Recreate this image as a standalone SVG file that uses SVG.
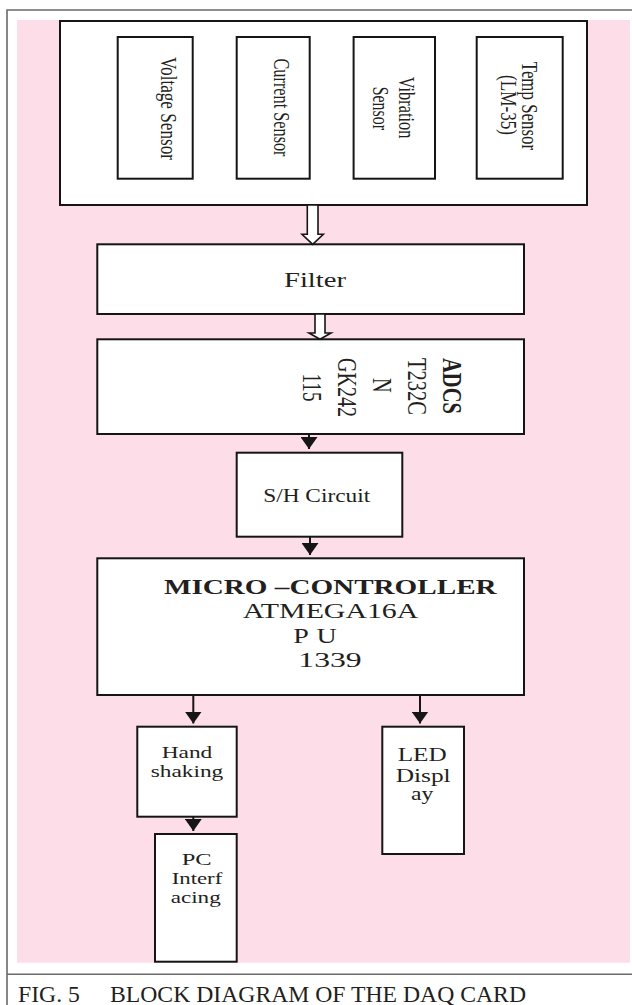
<svg xmlns="http://www.w3.org/2000/svg" width="632" height="1005" viewBox="0 0 632 1005">
<style>
.box{fill:#fff;stroke:#151515;stroke-width:2}
.t{font-family:"Liberation Serif","Times New Roman",Times,serif;fill:#231f20}
.c{text-anchor:middle}
.b{font-weight:bold}
.ln{stroke:#151515;stroke-width:2;fill:none}
.hollow{fill:#fff;stroke:#151515;stroke-width:1.6;stroke-linejoin:miter}
.frame{stroke:#6a6a6a;stroke-width:1.6;fill:none}
</style>
<defs>
<marker id="ah" markerUnits="userSpaceOnUse" viewBox="0 0 12 17" markerWidth="12" markerHeight="17" refX="12" refY="8.5" orient="auto">
<path d="M0,0 L12,8.5 L0,17 z" fill="#151515"/>
</marker>
</defs>
<rect x="0" y="0" width="632" height="1005" fill="#fff"/>
<rect x="17" y="20" width="613" height="942.7" fill="#fcdde8"/>
<path class="frame" d="M7,1005 V10 H632 M7,974.3 H632"/>

<g id="sensors">
<rect class="box" x="60" y="21" width="527" height="184"/>
</g>
<g id="voltage">
<rect class="box" x="117.7" y="37" width="75" height="141.7"/>
<text class="t c" font-size="16.5" textLength="103" lengthAdjust="spacingAndGlyphs" transform="translate(160.5,108.4) rotate(90) scale(1,1.35)">Voltage Sensor</text>
</g>
<g id="current">
<rect class="box" x="236.7" y="37" width="73" height="141.7"/>
<text class="t c" font-size="16.5" textLength="98" lengthAdjust="spacingAndGlyphs" transform="translate(274.2,107.5) rotate(90) scale(1,1.35)">Current Sensor</text>
</g>
<g id="vibration">
<rect class="box" x="353.6" y="37" width="81.4" height="141.7"/>
<text class="t c" font-size="16.5" textLength="61.6" lengthAdjust="spacingAndGlyphs" transform="translate(399,107.5) rotate(90) scale(1,1.35)">Vibration</text>
<text class="t c" font-size="16.5" textLength="43.3" lengthAdjust="spacingAndGlyphs" transform="translate(373,108.3) rotate(90) scale(1,1.35)">Sensor</text>
</g>
<g id="temp">
<rect class="box" x="476.7" y="37" width="86" height="141.7"/>
<text class="t c" font-size="16.5" textLength="88.3" lengthAdjust="spacingAndGlyphs" transform="translate(521.5,105.9) rotate(90) scale(1,1.35)">Temp Sensor</text>
<text class="t c" font-size="16.5" textLength="60" lengthAdjust="spacingAndGlyphs" transform="translate(501.4,105) rotate(90) scale(1,1.35)">(LM-35)</text>
</g>

<g id="filter">
<rect class="box" x="97.3" y="244.3" width="426.7" height="69.7"/>
<text class="t c" font-size="20" x="315" y="286.7" textLength="62" lengthAdjust="spacingAndGlyphs">Filter</text>
</g>

<g id="adc">
<rect class="box" x="97.3" y="339.3" width="426.7" height="94.7"/>
<text class="t c b" font-size="20.5" textLength="56" lengthAdjust="spacingAndGlyphs" transform="translate(442.7,386) rotate(90) scale(1,1.35)">ADCS</text>
<text class="t c" font-size="20.5" textLength="57" lengthAdjust="spacingAndGlyphs" transform="translate(408.3,386.5) rotate(90) scale(1,1.35)">T232C</text>
<text class="t c" font-size="20.5" transform="translate(373.3,385.5) rotate(90) scale(1,1.35)">N</text>
<text class="t c" font-size="20.5" textLength="59" lengthAdjust="spacingAndGlyphs" transform="translate(338.3,387.5) rotate(90) scale(1,1.35)">GK242</text>
<text class="t c" font-size="20.5" textLength="28" lengthAdjust="spacingAndGlyphs" transform="translate(303.3,387.5) rotate(90) scale(1,1.35)">115</text>
</g>

<g id="sh">
<rect class="box" x="236.7" y="452.7" width="165.6" height="84"/>
<text class="t c" font-size="19.5" x="316.7" y="502.3" textLength="107" lengthAdjust="spacingAndGlyphs">S/H Circuit</text>
</g>

<g id="micro">
<rect class="box" x="97.3" y="558.3" width="426.7" height="136.7"/>
<text class="t c b" font-size="21" x="330.3" y="594" textLength="332.7" lengthAdjust="spacingAndGlyphs">MICRO –CONTROLLER</text>
<text class="t c" font-size="20" x="330.5" y="618.3" textLength="175.7" lengthAdjust="spacingAndGlyphs">ATMEGA16A</text>
<text class="t" font-size="20" x="0 16.5" y="0" transform="translate(293.3,643.3) scale(1.4,1)">PU</text>
<text class="t c" font-size="20" x="330" y="666.7" textLength="63.4" lengthAdjust="spacingAndGlyphs">1339</text>
</g>

<g id="handshaking">
<rect class="box" x="137.3" y="726.7" width="99.4" height="90"/>
<text class="t c" font-size="17.5" x="187" y="758.3" textLength="50.6" lengthAdjust="spacingAndGlyphs">Hand</text>
<text class="t c" font-size="17.5" x="187" y="777.3" textLength="72.6" lengthAdjust="spacingAndGlyphs">shaking</text>
</g>

<g id="pc">
<rect class="box" x="155" y="834" width="81.7" height="127.7"/>
<text class="t c" font-size="17.5" x="196.7" y="865" textLength="30" lengthAdjust="spacingAndGlyphs">PC</text>
<text class="t c" font-size="17.5" x="197" y="884" textLength="50.6" lengthAdjust="spacingAndGlyphs">Interf</text>
<text class="t c" font-size="17.5" x="195.7" y="903" textLength="50" lengthAdjust="spacingAndGlyphs">acing</text>
</g>

<g id="led">
<rect class="box" x="382.3" y="726.7" width="81.7" height="127.3"/>
<text class="t c" font-size="18" x="422.2" y="761" textLength="49" lengthAdjust="spacingAndGlyphs">LED</text>
<text class="t c" font-size="18" x="423.2" y="781.7" textLength="55" lengthAdjust="spacingAndGlyphs">Displ</text>
<text class="t c" font-size="18" x="422.2" y="800" textLength="22.3" lengthAdjust="spacingAndGlyphs">ay</text>
</g>

<g id="connectors">
<path class="hollow" d="M307.3,205 H318 V234.3 H323.3 L312.7,244.3 L302,234.3 H307.3 Z"/>
<path class="hollow" d="M315,314 H325 V333 H331 L320,339.3 L309,333 H315 Z"/>
<line class="ln" x1="309" y1="434" x2="309" y2="449" marker-end="url(#ah)"/>
<line class="ln" x1="310" y1="536.7" x2="310" y2="555" marker-end="url(#ah)"/>
<line class="ln" x1="193.3" y1="695" x2="193.3" y2="723.5" marker-end="url(#ah)"/>
<line class="ln" x1="193.3" y1="816.7" x2="193.3" y2="831" marker-end="url(#ah)"/>
<line class="ln" x1="420" y1="695" x2="420" y2="723.5" marker-end="url(#ah)"/>
</g>

<g id="caption">
<text class="t" font-size="23.7" x="18" y="1001.7">FIG. 5</text>
<text class="t" font-size="23.7" x="110" y="1001.7" textLength="416" lengthAdjust="spacingAndGlyphs">BLOCK DIAGRAM OF THE DAQ CARD</text>
</g>
</svg>
